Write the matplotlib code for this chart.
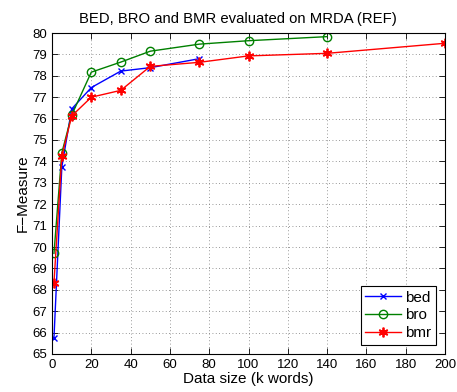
import matplotlib
matplotlib.use("Agg")
import matplotlib.pyplot as plt

plt.rcParams['font.family'] = ['Liberation Sans', 'DejaVu Sans']

# data (data size in k words vs F-measure)
bed_x = [1, 5, 10, 20, 35, 50, 75]
bed_y = [65.75, 73.74, 76.45, 77.45, 78.22, 78.38, 78.8]

bro_x = [1, 5, 10, 20, 35, 50, 75, 100, 140]
bro_y = [69.7, 74.4, 76.16, 78.17, 78.64, 79.15, 79.48, 79.64, 79.83]

bmr_x = [1, 5, 10, 20, 35, 50, 75, 100, 140, 200]
bmr_y = [68.33, 74.24, 76.12, 77.0, 77.32, 78.44, 78.63, 78.93, 79.05, 79.52]

xticks = list(range(0, 201, 20))
yticks = list(range(65, 81))

fig = plt.figure(figsize=(4.57, 3.92), dpi=100)
ax = fig.add_axes([52 / 457, 38 / 392, 393 / 457, 321 / 392])

ax.plot(bed_x, bed_y, color='blue', marker='x', markersize=5, lw=1, label='bed')
ax.plot(bro_x, bro_y, color='green', marker='o', markersize=6, mfc='none', lw=1, label='bro')
ax.plot(bmr_x, bmr_y, color='red', marker=(6, 2, 0), markersize=7, mew=1.3, lw=1, label='bmr')

ax.set_xlim(0, 200)
ax.set_ylim(65, 80)
ax.set_xticks(xticks)
ax.set_yticks(yticks)
ax.tick_params(direction='in', top=True, right=True, labelsize=9.5, length=4, width=0.6)
ax.grid(True, linestyle=(0, (1, 3)), color='#777777', linewidth=0.6)
for s in ax.spines.values():
    s.set_linewidth(0.8)

ax.set_title('BED, BRO and BMR evaluated on MRDA (REF)', fontsize=10.7, pad=7, x=0.472)
ax.set_xlabel('Data size (k words)', fontsize=11, labelpad=1)
ax.set_ylabel('F\u2212Measure', fontsize=11, labelpad=2)

leg = ax.legend(loc='lower right', fontsize=11, fancybox=False, framealpha=1,
                edgecolor='black', handlelength=2.3, borderaxespad=0.6,
                labelspacing=0.25, handletextpad=0.3, borderpad=0.3)
leg.get_frame().set_linewidth(0.8)

fig.savefig('out.png', dpi=100)
